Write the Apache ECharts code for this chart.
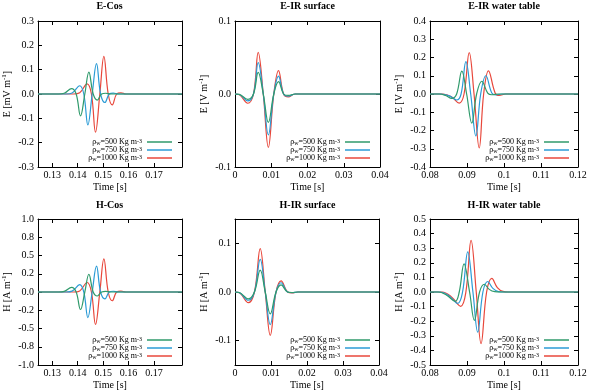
<!DOCTYPE html>
<html><head><meta charset="utf-8">
<script src="https://cdn.jsdelivr.net/npm/echarts@6/dist/echarts.min.js"></script>
<style>html,body{margin:0;padding:0;background:#fff}#c{width:591px;height:391px}</style>
</head><body><div id="c"></div>
<script>
// ---- data (time [s], value) ----
const eCos500  = [[0.1244,0],[0.1325,0],[0.1347,0.003],[0.1376,0.022],[0.1394,0],[0.1411,-0.09],[0.1428,0],[0.1444,0.09],[0.1461,0],[0.1477,-0.025],[0.1494,0],[0.151,0.003],[0.153,0],[0.181,0]];
const eCos750  = [[0.1244,0],[0.1355,0],[0.1378,0.004],[0.1408,0.034],[0.1424,0],[0.144,-0.127],[0.1457,0],[0.1474,0.125],[0.149,0],[0.1507,-0.035],[0.1524,0],[0.154,0.004],[0.156,0],[0.181,0]];
const eCos1000 = [[0.1244,0],[0.1385,0],[0.1408,0.005],[0.1437,0.042],[0.1454,0],[0.147,-0.157],[0.1487,0],[0.1503,0.155],[0.152,0],[0.1536,-0.045],[0.1553,0],[0.157,0.005],[0.159,0],[0.181,0]];

const hCos500  = [[0.1244,0],[0.1325,0],[0.1347,0.008],[0.1376,0.063],[0.1394,0],[0.1411,-0.24],[0.1428,0],[0.1444,0.243],[0.1461,0],[0.1477,-0.055],[0.1494,0],[0.151,0.008],[0.153,0],[0.181,0]];
const hCos750  = [[0.1244,0],[0.1355,0],[0.1378,0.012],[0.1408,0.1],[0.1424,0],[0.144,-0.35],[0.1457,0],[0.1474,0.355],[0.149,0],[0.1507,-0.094],[0.1524,0],[0.154,0.01],[0.156,0],[0.181,0]];
const hCos1000 = [[0.1244,0],[0.1385,0],[0.1408,0.015],[0.1437,0.13],[0.1454,0],[0.147,-0.445],[0.1487,0],[0.1503,0.455],[0.152,0],[0.1536,-0.12],[0.1553,0],[0.157,0.012],[0.159,0],[0.181,0]];

const eIrs500  = [[0,0],[0.0012,-0.0005],[0.0035,-0.0073],[0.0051,0],[0.0064,0.0295],[0.0078,0],[0.0092,-0.039],[0.0107,0],[0.012,0.017],[0.0134,0],[0.0147,-0.002],[0.0166,0],[0.04,0]];
const eIrs750  = [[0,0],[0.0012,-0.0007],[0.0035,-0.0095],[0.0051,0],[0.0064,0.043],[0.0078,0],[0.0092,-0.056],[0.0107,0],[0.012,0.0245],[0.0134,0],[0.0147,-0.003],[0.0166,0],[0.04,0]];
const eIrs1000 = [[0,0],[0.0012,-0.001],[0.0035,-0.0127],[0.0051,0],[0.0064,0.057],[0.0078,0],[0.0092,-0.073],[0.0107,0],[0.012,0.032],[0.0134,0],[0.0147,-0.004],[0.0166,0],[0.04,0]];

const hIrs500  = [[0,0],[0.0012,-0.001],[0.0037,-0.014],[0.0054,0],[0.007,0.045],[0.0084,0],[0.0098,-0.045],[0.0114,0],[0.0128,0.0145],[0.0146,0],[0.0158,-0.001],[0.0175,0],[0.04,0]];
const hIrs750  = [[0,0],[0.0012,-0.0012],[0.0037,-0.017],[0.0054,0],[0.007,0.067],[0.0084,0],[0.0098,-0.067],[0.0114,0],[0.0128,0.019],[0.0146,0],[0.0158,-0.0015],[0.0175,0],[0.04,0]];
const hIrs1000 = [[0,0],[0.0012,-0.0015],[0.0037,-0.022],[0.0054,0],[0.007,0.089],[0.0084,0],[0.0098,-0.089],[0.0114,0],[0.0128,0.023],[0.0146,0],[0.0158,-0.002],[0.0175,0],[0.04,0]];

const eIrw500  = [[0.08,0],[0.0825,0],[0.0842,-0.008],[0.0859,-0.024],[0.0872,0],[0.0886,0.125],[0.0899,0],[0.0913,-0.16],[0.0926,0],[0.094,0.07],[0.0956,0.005],[0.0967,-0.004],[0.0985,0],[0.12,0]];
const eIrw750  = [[0.08,0],[0.083,0],[0.0852,-0.01],[0.0872,-0.033],[0.0884,0],[0.0897,0.177],[0.091,0],[0.0924,-0.23],[0.0937,0],[0.0951,0.1],[0.0967,0.006],[0.0978,-0.005],[0.0995,0],[0.12,0]];
const eIrw1000 = [[0.08,0],[0.0835,0],[0.0858,-0.015],[0.0879,-0.05],[0.0892,0],[0.0906,0.227],[0.0919,0],[0.0933,-0.296],[0.0945,0],[0.0958,0.127],[0.0976,0.006],[0.0987,-0.008],[0.1005,0],[0.12,0]];

const hIrw500  = [[0.08,0],[0.0822,0],[0.0845,-0.022],[0.0868,-0.064],[0.0879,0],[0.0892,0.193],[0.0907,0],[0.092,-0.195],[0.0934,0],[0.0947,0.053],[0.096,0.018],[0.0975,0.002],[0.099,0],[0.12,0]];
const hIrw750  = [[0.08,0],[0.0828,0],[0.0852,-0.027],[0.0875,-0.078],[0.0888,0],[0.0902,0.275],[0.0916,0],[0.0929,-0.275],[0.0943,0],[0.0956,0.072],[0.097,0.025],[0.0985,0.003],[0.1,0],[0.12,0]];
const hIrw1000 = [[0.08,0],[0.0833,0],[0.0858,-0.034],[0.0883,-0.098],[0.0897,0],[0.0911,0.353],[0.0925,0],[0.0938,-0.353],[0.0953,0],[0.0967,0.093],[0.0982,0.03],[0.0997,0.004],[0.1012,0],[0.12,0]];

// ---- ticks / labels ----
const cosXTicks = [0.13,0.14,0.15,0.16,0.17];
const irsXTicks = [0,0.01,0.02,0.03,0.04];
const irwXTicks = [0.08,0.09,0.1,0.11,0.12];
const eCosYTicks = [-0.3,-0.2,-0.1,0,0.1,0.2,0.3];
const hCosYTicks = [-1,-0.75,-0.5,-0.25,0,0.25,0.5,0.75,1];
const hCosYLabels = ['-1.0','-0.8','-0.5','-0.2','0.0','0.2','0.5','0.8','1.0'];
const eIrsYTicks = [-0.1,0,0.1];
const hIrsYTicks = [-0.1,0,0.1];
const eIrwYTicks = [-0.4,-0.3,-0.2,-0.1,0,0.1,0.2,0.3,0.4];
const hIrwYTicks = [-0.5,-0.4,-0.3,-0.2,-0.1,0,0.1,0.2,0.3,0.4,0.5];
const densities = ['500','750','1000'];
const titles = ['E-Cos','E-IR surface','E-IR water table','H-Cos','H-IR surface','H-IR water table'];
const yUnits = [['E [mV m','-1',']'],['E [V m','-1',']'],['E [V m','-1',']'],['H [A m','-1',']'],['H [A m','-1',']'],['H [A m','-1',']']];

// ---- layout / style config ----
const FONT = '"Liberation Serif", "Times New Roman", serif';
const COLORS = ['#2f9a6b','#2b9bd6','#e8473b'];
const panels = [
  {x:[0.1244,0.181], xt:cosXTicks, y:[-0.3,0.3], yt:eCosYTicks, yl:null, s:[eCos500,eCos750,eCos1000], g:[37,21,145,146], leg:[419,138], tt:[109.5,1]},
  {x:[0,0.04], xt:irsXTicks, y:[-0.1,0.1], yt:eIrsYTicks, yl:null, s:[eIrs500,eIrs750,eIrs1000], g:[235,21,145,146], leg:[221,138], tt:[307.5,1]},
  {x:[0.08,0.12], xt:irwXTicks, y:[-0.4,0.4], yt:eIrwYTicks, yl:null, s:[eIrw500,eIrw750,eIrw1000], g:[430,21,148,146], leg:[22,138], tt:[504,1]},
  {x:[0.1244,0.181], xt:cosXTicks, y:[-1,1], yt:hCosYTicks, yl:hCosYLabels, s:[hCos500,hCos750,hCos1000], g:[37,219,145,148], leg:[419,336], tt:[109.5,200]},
  {x:[0,0.04], xt:irsXTicks, y:[-0.15,0.15], yt:hIrsYTicks, yl:null, s:[hIrs500,hIrs750,hIrs1000], g:[235,219,144,147], leg:[221,336], tt:[307.5,200]},
  {x:[0.08,0.12], xt:irwXTicks, y:[-0.5,0.5], yt:hIrwYTicks, yl:null, s:[hIrw500,hIrw750,hIrw1000], g:[430,219,148,148], leg:[22,336], tt:[504,200]}
];

const grid=[], xAxis=[], yAxis=[], series=[], title=[], legend=[];
const lineC = {show:true, onZero:false, lineStyle:{color:'#000', width:1}};
panels.forEach((p,i)=>{
  grid.push({left:p.g[0], top:p.g[1], width:p.g[2], height:p.g[3]});
  title.push({text:titles[i], left:p.tt[0], top:p.tt[1], textAlign:'center', padding:0,
    textStyle:{fontFamily:FONT, fontSize:10, fontWeight:'bold', color:'#000'}});
  const xl = {fontFamily:FONT, fontSize:10, color:'#000', margin:3, customValues:p.xt,
    formatter:v=>String(+(+v).toFixed(4))};
  xAxis.push({type:'value', gridIndex:i, position:'bottom', min:p.x[0], max:p.x[1],
    axisLine:lineC, axisTick:{show:true, inside:true, length:4, customValues:p.xt, lineStyle:{color:'#000'}},
    axisLabel:xl, splitLine:{show:false},
    name:'Time [s]', nameLocation:'middle', nameGap:15, nameTextStyle:{fontFamily:FONT, fontSize:10, color:'#000'}});
  xAxis.push({type:'value', gridIndex:i, position:'top', min:p.x[0], max:p.x[1],
    axisLine:lineC, axisTick:{show:true, inside:true, length:4, customValues:p.xt, lineStyle:{color:'#000'}},
    axisLabel:{show:false, customValues:p.xt}, splitLine:{show:false}});
  const yl = {fontFamily:FONT, fontSize:10, color:'#000', margin:4, customValues:p.yt,
    formatter:v=>{ if(p.yl){ const k=p.yt.findIndex(t=>Math.abs(t-v)<1e-9); return p.yl[k]; } return (+v).toFixed(1);} };
  const u = yUnits[i];
  yAxis.push({type:'value', gridIndex:i, position:'left', min:p.y[0], max:p.y[1],
    axisLine:lineC, axisTick:{show:true, inside:true, length:4, customValues:p.yt, lineStyle:{color:'#000'}},
    axisLabel:yl, splitLine:{show:false},
    name:'{t|'+u[0]+'}{p|'+u[1]+'}{t|'+u[2]+'}', nameLocation:'middle', nameGap:25,
    nameTextStyle:{fontFamily:FONT, fontSize:10, color:'#000',
      rich:{t:{fontFamily:FONT, fontSize:10, color:'#000', lineHeight:12},
            p:{fontFamily:FONT, fontSize:7, color:'#000', verticalAlign:'top', lineHeight:6}}}});
  yAxis.push({type:'value', gridIndex:i, position:'right', min:p.y[0], max:p.y[1],
    axisLine:lineC, axisTick:{show:true, inside:true, length:4, customValues:p.yt, lineStyle:{color:'#000'}},
    axisLabel:{show:false, customValues:p.yt}, splitLine:{show:false}});
  p.s.forEach((d,j)=>{
    series.push({type:'line', name:densities[j], xAxisIndex:2*i, yAxisIndex:2*i, data:d,
      smooth:0.4, showSymbol:false, symbol:'none', color:COLORS[j],
      lineStyle:{width:1.2, color:COLORS[j]}, clip:true, z:3-j+2});
  });
  legend.push({data:densities, orient:'vertical', align:'right', right:p.leg[0], top:p.leg[1],
    padding:0, itemGap:0, itemWidth:25, itemHeight:1.5, icon:'rect', selectedMode:false,
    formatter:n=>'{a|ρ}{s|w}{a|='+n+' Kg m}{p|-3}',
    textStyle:{fontFamily:FONT, fontSize:8, color:'#000',
      rich:{a:{fontFamily:FONT, fontSize:8, color:'#000', lineHeight:8},
            s:{fontFamily:FONT, fontSize:6, color:'#000', verticalAlign:'bottom', lineHeight:4},
            p:{fontFamily:FONT, fontSize:6, color:'#000', verticalAlign:'top', lineHeight:2}}}});
});

const chart = echarts.init(document.getElementById('c'), null, {renderer:'canvas'});
chart.setOption({animation:false, backgroundColor:'#fff', title, grid, xAxis, yAxis, series, legend});
</script></body></html>
